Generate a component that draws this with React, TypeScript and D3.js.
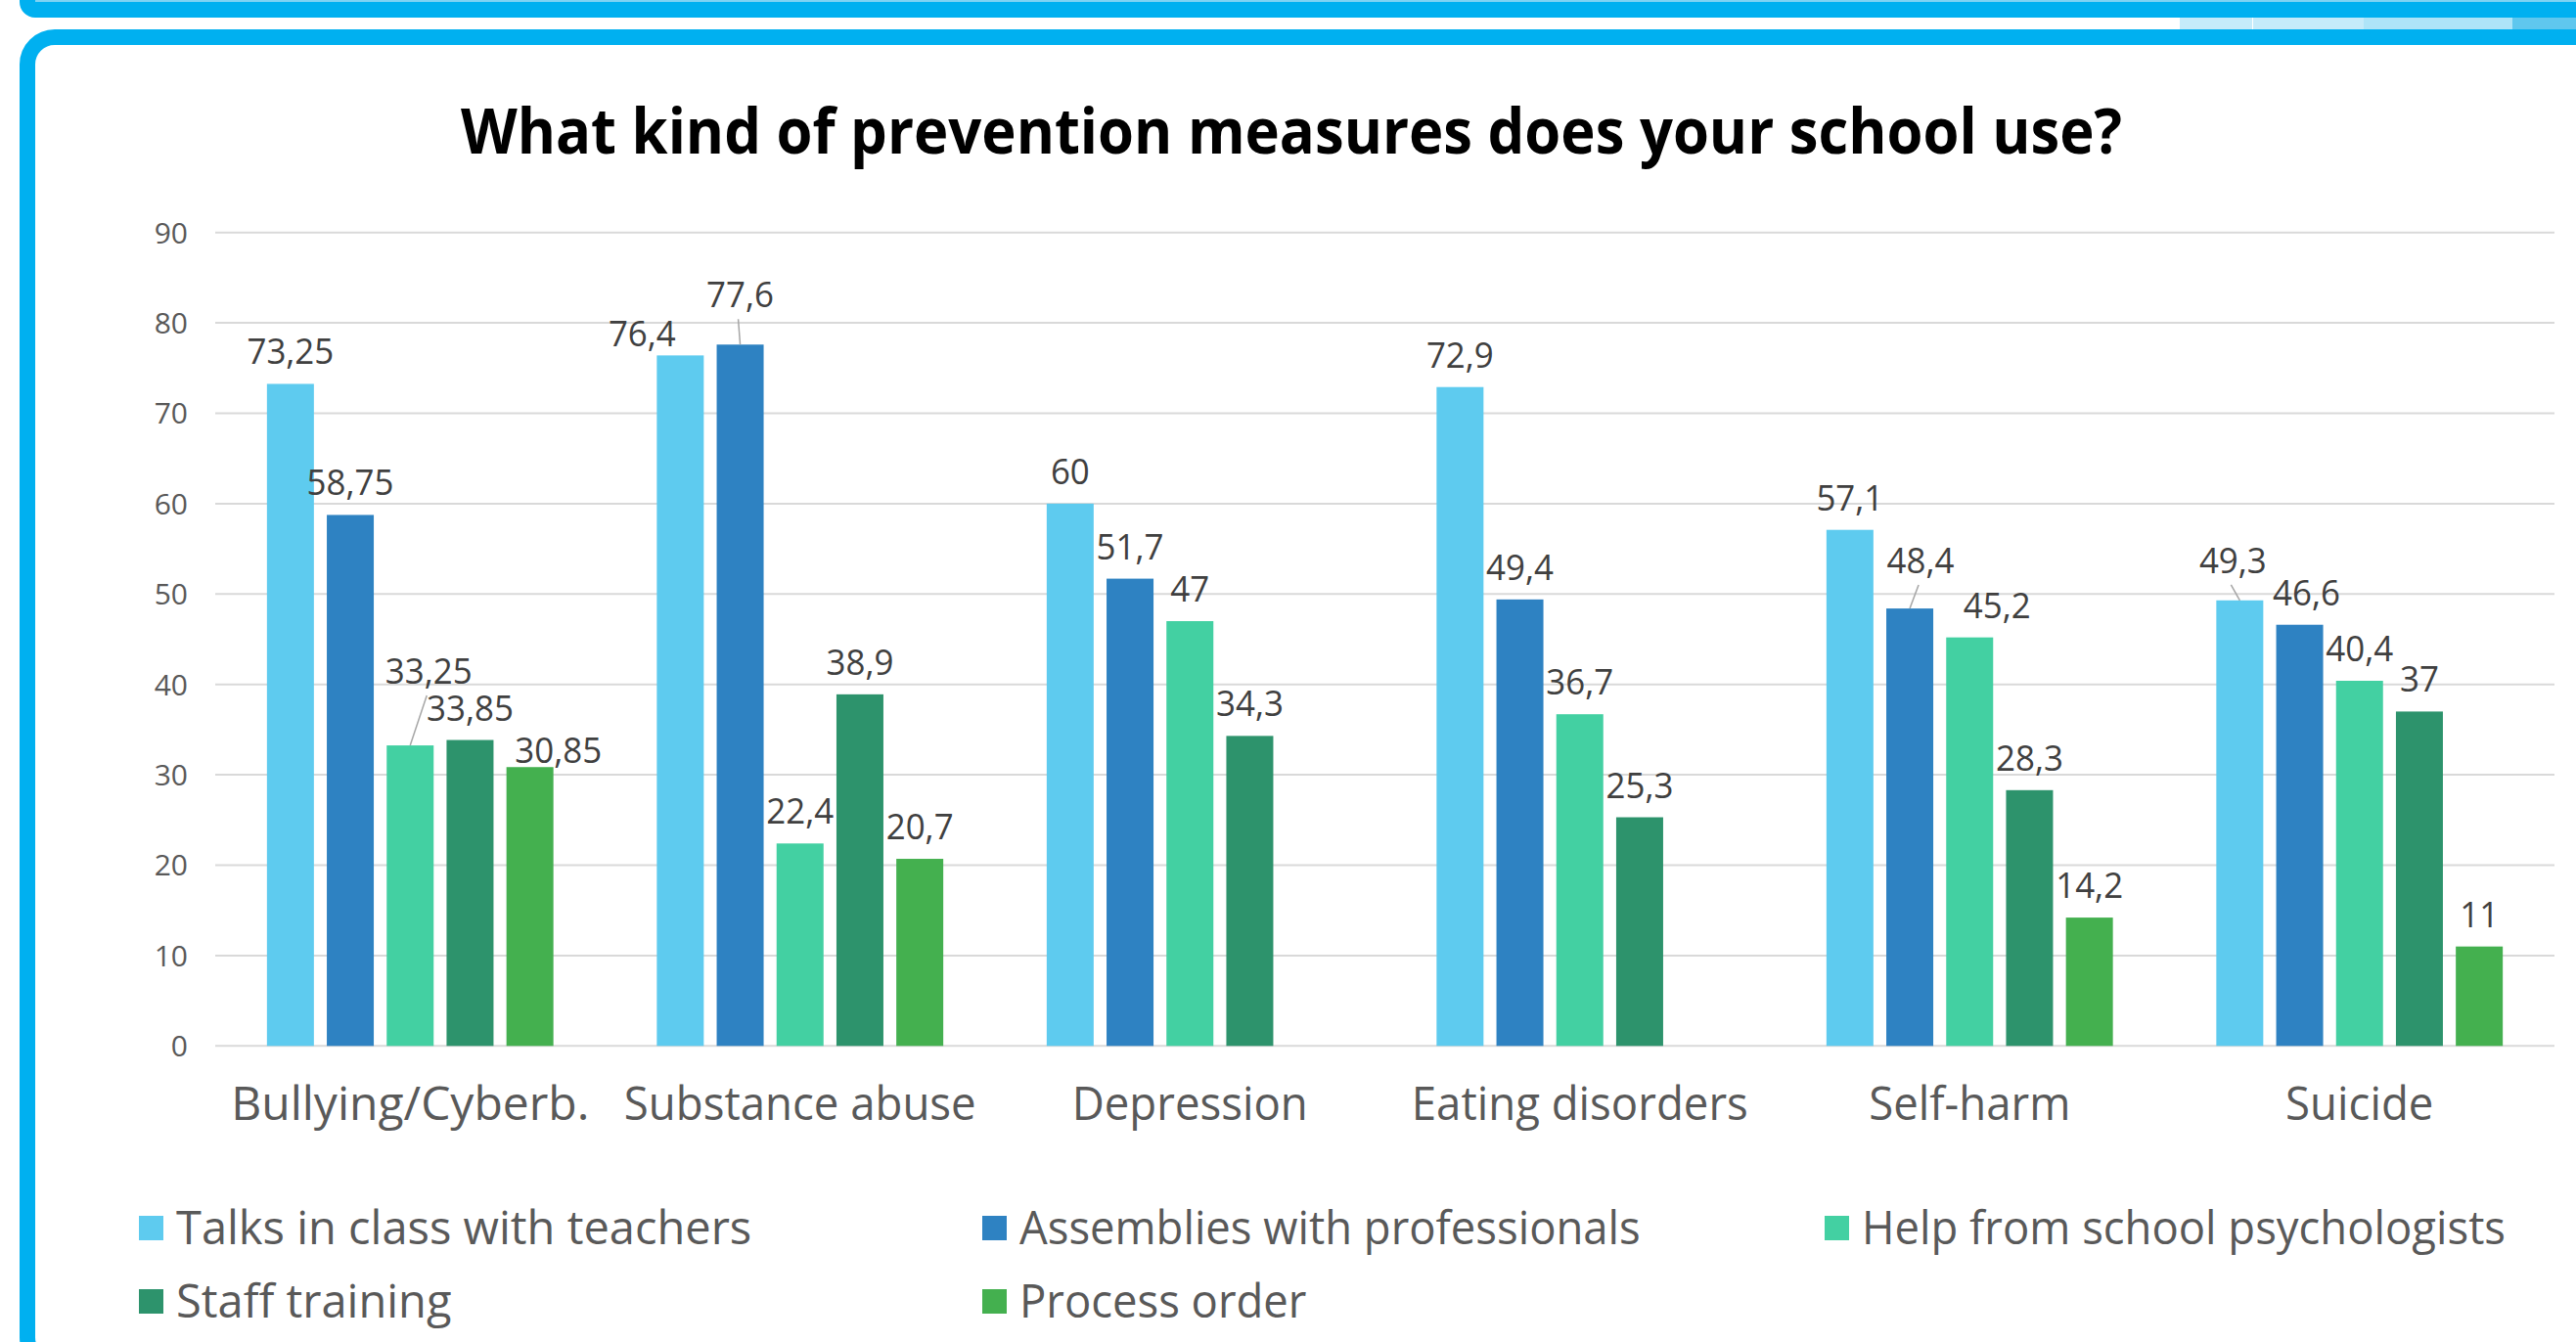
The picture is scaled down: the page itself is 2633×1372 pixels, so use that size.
import React from "react";
import * as d3 from "d3";

const categories = ["Bullying/Cyberb.", "Substance abuse", "Depression", "Eating disorders", "Self-harm", "Suicide"];
const seriesNames = [
  "Talks in class with teachers",
  "Assemblies with professionals",
  "Help from school psychologists",
  "Staff training",
  "Process order",
];
const talks = [73.25, 76.4, 60, 72.9, 57.1, 49.3];
const assemblies = [58.75, 77.6, 51.7, 49.4, 48.4, 46.6];
const psychologists = [33.25, 22.4, 47, 36.7, 45.2, 40.4];
const staffTraining = [33.85, 38.9, 34.3, 25.3, 28.3, 37];
const processOrder: (number | null)[] = [30.85, 20.7, null, null, 14.2, 11];
const yTicks = [0, 10, 20, 30, 40, 50, 60, 70, 80, 90];
const title = "What kind of prevention measures does your school use?";

const seriesValues = [talks, assemblies, psychologists, staffTraining, processOrder];
const colors = ["#5ECBEF", "#2E82C2", "#43D0A2", "#2D936C", "#44B04F"];

// manual label moves (as in the original), keyed "category-series"
const labelMoves: Record<string, { dx: number; dy: number; leader?: boolean }> = {
  "0-2": { dx: 19, dy: -43, leader: true },
  "0-4": { dx: 29, dy: 16 },
  "1-0": { dx: -39, dy: 11 },
  "1-1": { dx: 0, dy: -18, leader: true },
  "4-1": { dx: 11, dy: -16, leader: true },
  "4-2": { dx: 28, dy: 0 },
  "5-0": { dx: -7, dy: -8, leader: true },
  "5-1": { dx: 7, dy: 0 },
};
// horizontal text condensing to match the original's narrower face
const categoryTextScale = [1.0, 0.95, 0.95, 0.95, 0.95, 0.95];
const legendColScale = [1.0, 0.967, 0.967];

const W = 2633;
const H = 1372;
const FONT = "'Open Sans', sans-serif";

export default function App() {
  const x0 = d3.scaleBand<string>().domain(categories).range([220, 2611]).padding(0);
  const x1 = d3
    .scaleBand<string>()
    .domain(seriesNames)
    .range([0, x0.bandwidth()])
    .paddingInner(0.2157)
    .paddingOuter(0.8636);
  const y = d3.scaleLinear().domain([0, 90]).range([1069.3, 237.7]);
  const fmt = (v: number) => String(v).replace(".", ",");

  const legendCols = [142, 1004, 1865];
  const legendRows = [1272, 1347];

  return (
    <svg
      width={W}
      height={H}
      style={{ position: "absolute", left: 0, top: 0, background: "#fff" }}
      fontFamily={FONT}
    >
      <rect x={0} y={0} width={W} height={H} fill="#fff" />
      {/* previous slide frame bottom */}
      <rect x={28} y={-100} width={2800} height={110} rx={8} fill="#7fd3f3" stroke="#00B0F0" strokeWidth={16} />
      {/* decorative light segments */}
      <rect x={2228} y={18} width={74} height={12} fill="#c5ebfa" />
      <rect x={2303} y={18} width={113} height={12} fill="#c5ebfa" />
      <rect x={2416} y={18} width={152} height={12} fill="#aee4f8" />
      <rect x={2568} y={18} width={70} height={12} fill="#5fc7ee" />
      {/* main frame */}
      <rect x={28} y={38} width={2800} height={1357} rx={28} fill="#fff" stroke="#00B0F0" strokeWidth={16} />

      <text
        x={1320}
        y={157}
        textAnchor="middle"
        fontSize={64}
        fontWeight={700}
        fill="#000"
        textLength={1698}
        lengthAdjust="spacingAndGlyphs"
      >
        {title}
      </text>

      {/* gridlines */}
      {yTicks.map((t) => (
        <g key={t}>
          <line x1={220} x2={2611} y1={y(t)} y2={y(t)} stroke="#d9d9d9" strokeWidth={2} />
          <text x={192} y={y(t)} dy="0.36em" textAnchor="end" fontSize={30} fill="#595959">
            {t}
          </text>
        </g>
      ))}

      {/* bars */}
      {categories.map((c, ci) => (
        <g key={c} transform={`translate(${x0(c)},0)`}>
          {seriesNames.map((s, si) => {
            const v = seriesValues[si][ci];
            if (v == null) return null;
            return (
              <rect
                key={s}
                x={x1(s)}
                y={y(v)}
                width={x1.bandwidth()}
                height={y(0) - y(v)}
                fill={colors[si]}
              />
            );
          })}
        </g>
      ))}

      {/* data labels */}
      {categories.map((c, ci) =>
        seriesNames.map((s, si) => {
          const v = seriesValues[si][ci];
          if (v == null) return null;
          const cx = (x0(c) as number) + (x1(s) as number) + x1.bandwidth() / 2;
          const top = y(v);
          const mv = labelMoves[`${ci}-${si}`] || { dx: 0, dy: 0 };
          const lx = cx + mv.dx;
          const base = top - 20 + mv.dy;
          return (
            <g key={`${c}-${s}`}>
              {mv.leader && (
                <line x1={cx} y1={top} x2={lx - 2} y2={base + 12} stroke="#a6a6a6" strokeWidth={1.5} />
              )}
              <text
                transform={`translate(${lx},${base}) scale(0.97,1)`}
                textAnchor="middle"
                fontSize={36}
                fill="#404040"
              >
                {fmt(v)}
              </text>
            </g>
          );
        })
      )}

      {/* category labels */}
      {categories.map((c, ci) => (
        <text
          key={c}
          transform={`translate(${(x0(c) as number) + x0.bandwidth() / 2},1145) scale(${categoryTextScale[ci]},1)`}
          textAnchor="middle"
          fontSize={48}
          fill="#595959"
        >
          {c}
        </text>
      ))}

      {/* legend */}
      {seriesNames.map((s, i) => {
        const col = i % 3;
        const row = Math.floor(i / 3);
        const lx = legendCols[col];
        const ly = legendRows[row];
        return (
          <g key={s}>
            <rect x={lx} y={ly - 29} width={25} height={25} fill={colors[i]} />
            <text
              transform={`translate(${lx + 38},${ly}) scale(${legendColScale[col]},1)`}
              fontSize={47}
              fill="#595959"
            >
              {s}
            </text>
          </g>
        );
      })}
    </svg>
  );
}
